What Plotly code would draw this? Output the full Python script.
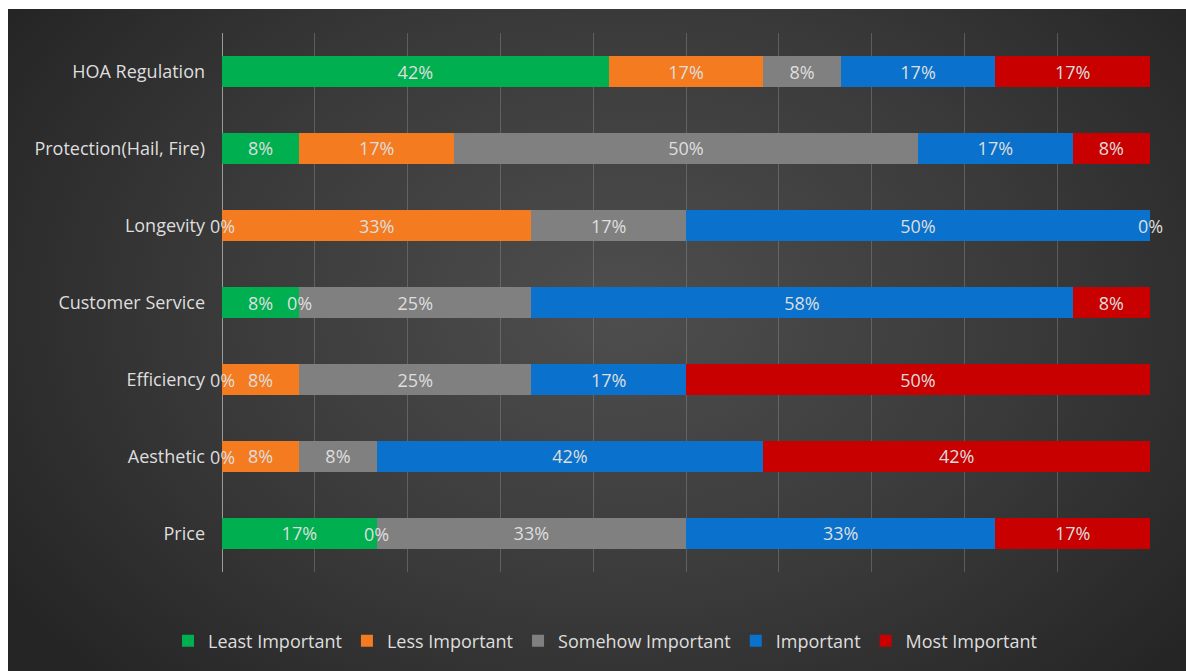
import base64
import plotly.graph_objects as go

# Survey: importance rating of each roofing factor (share of respondents, %)
categories = ["HOA Regulation", "Protection(Hail, Fire)", "Longevity",
              "Customer Service", "Efficiency", "Aesthetic", "Price"]
series_names = ["Least Important", "Less Important", "Somehow Important",
                "Important", "Most Important"]
least_important = [41.67, 8.33, 0, 8.33, 0, 0, 16.67]
less_important = [16.67, 16.67, 33.33, 0, 8.33, 8.33, 0]
somehow_important = [8.33, 50, 16.67, 25, 25, 8.33, 33.33]
important = [16.67, 16.67, 50, 58.33, 16.67, 41.67, 33.33]
most_important = [16.67, 8.33, 0, 8.33, 50, 41.67, 16.67]

series_values = [least_important, less_important, somehow_important,
                 important, most_important]
colors = ["#00b050", "#f47b20", "#808080", "#0a72cc", "#c80000"]

TEXT_COLOR = "#dedede"
FONT = "Open Sans"
FS = 18

# Layout geometry (pixels)
W, H = 1186, 671
L, R, T, B = 222, 36, 33, 99
PW, PH = W - L - R, H - T - B


def px_to_paper_x(px):
    return (px - L) / PW


def px_to_paper_y(py):
    return (H - B - py) / PH


fig = go.Figure()

for name, vals, col in zip(series_names, series_values, colors):
    fig.add_trace(go.Bar(
        name=name,
        y=categories,
        x=vals,
        orientation="h",
        marker=dict(color=col, line=dict(width=0)),
        text=[f"{round(v)}%" if v > 0 else "" for v in vals],
        textposition="inside",
        insidetextanchor="middle",
        textangle=0,
        constraintext="none",
        insidetextfont=dict(color=TEXT_COLOR, size=FS, family=FONT),
        hoverinfo="skip",
    ))

# Labels for zero-width segments, placed at the running total
annotations = []
for i, cat in enumerate(categories):
    cum = 0.0
    for vals in series_values:
        v = vals[i]
        if v == 0:
            annotations.append(dict(
                x=cum, y=cat, xref="x", yref="y", text="0%",
                showarrow=False, font=dict(color=TEXT_COLOR, size=FS, family=FONT),
                xanchor="center", yanchor="middle",
            ))
        cum += v

# Dark radial-gradient backdrop
bg_x0, bg_y0 = 8, 9
bg_w, bg_h = W - bg_x0, H - bg_y0
svg = f"""<svg xmlns='http://www.w3.org/2000/svg' width='{bg_w}' height='{bg_h}' viewBox='0 0 {bg_w} {bg_h}' preserveAspectRatio='none'>
<defs><radialGradient id='g' cx='0.52' cy='0.45' r='0.62' gradientTransform='translate(0.52 0.45) scale(1 1.3) translate(-0.52 -0.45)'>
<stop offset='0' stop-color='#4e4e4e'/>
<stop offset='0.55' stop-color='#3a3a3a'/>
<stop offset='1' stop-color='#252525'/>
</radialGradient></defs>
<rect x='0' y='0' width='{bg_w}' height='{bg_h}' fill='url(#g)'/>
</svg>"""
svg_uri = "data:image/svg+xml;base64," + base64.b64encode(svg.encode()).decode()

fig.add_layout_image(dict(
    source=svg_uri,
    xref="paper", yref="paper",
    x=px_to_paper_x(bg_x0), y=px_to_paper_y(bg_y0),
    sizex=bg_w / PW, sizey=bg_h / PH,
    xanchor="left", yanchor="top",
    sizing="stretch", layer="below",
))

fig.update_layout(
    barmode="stack",
    bargap=0.61,
    width=W, height=H,
    margin=dict(l=L, r=R, t=T, b=B, pad=0),
    paper_bgcolor="white",
    plot_bgcolor="rgba(0,0,0,0)",
    font=dict(family=FONT, size=FS, color=TEXT_COLOR),
    annotations=annotations,
    showlegend=True,
    legend=dict(
        orientation="h",
        x=px_to_paper_x(605), y=px_to_paper_y(641),
        xanchor="center", yanchor="middle",
        font=dict(color=TEXT_COLOR, size=FS, family=FONT),
        bgcolor="rgba(0,0,0,0)",
        itemwidth=30,
        traceorder="normal",
    ),
    xaxis=dict(
        range=[0, 100],
        dtick=10,
        showticklabels=False,
        showgrid=True,
        gridcolor="rgba(140,140,140,0.45)",
        gridwidth=1,
        zeroline=True,
        zerolinecolor="#9a9a9a",
        zerolinewidth=1,
        showline=False,
        fixedrange=True,
    ),
    yaxis=dict(
        categoryorder="array",
        categoryarray=categories,
        autorange="reversed",
        showgrid=False,
        zeroline=False,
        showline=False,
        ticks="",
        ticklabelstandoff=16,
        tickfont=dict(color=TEXT_COLOR, size=FS, family=FONT),
        fixedrange=True,
    ),
)

fig.write_html("out.html")
